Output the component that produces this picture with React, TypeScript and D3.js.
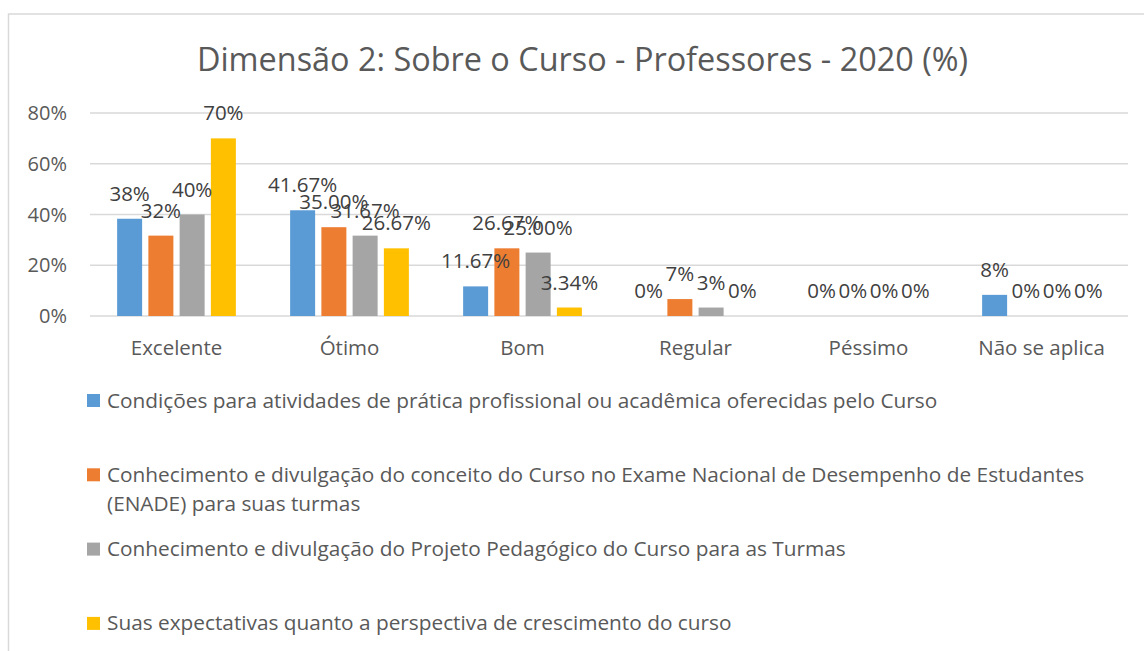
import React from "react";
import * as d3 from "d3";

const categories = ["Excelente", "Ótimo", "Bom", "Regular", "Péssimo", "Não se aplica"];
const seriesNames = [
  ["Condições para atividades de prática profissional ou acadêmica oferecidas pelo Curso"],
  ["Conhecimento e divulgação do conceito do Curso no Exame Nacional de Desempenho de Estudantes", "(ENADE) para suas turmas"],
  ["Conhecimento e divulgação do Projeto Pedagógico do Curso para as Turmas"],
  ["Suas expectativas quanto a perspectiva de crescimento do curso"],
];
const seriesColors = ["#5B9BD5", "#ED7D31", "#A5A5A5", "#FFC000"];
// values per series, in category order
const seriesValues = [
  [38.33, 41.67, 11.67, 0, 0, 8.33],
  [31.67, 35.0, 26.67, 6.67, 0, 0],
  [40, 31.67, 25.0, 3.33, 0, 0],
  [70, 26.67, 3.34, 0, 0, 0],
];
const seriesLabels = [
  ["38%", "41.67%", "11.67%", "0%", "0%", "8%"],
  ["32%", "35.00%", "26.67%", "7%", "0%", "0%"],
  ["40%", "31.67%", "25.00%", "3%", "0%", "0%"],
  ["70%", "26.67%", "3.34%", "0%", "0%", "0%"],
];
const yTicks = [0, 20, 40, 60, 80];
const title = "Dimensão 2: Sobre o Curso - Professores - 2020 (%)";

const W = 1144;
const H = 651;
const FONT = "'Open Sans', sans-serif";
const TXT = "#595959";

export default function App() {
  const x0 = d3.scaleBand<string>().domain(categories).range([90, 1128]);
  const x1 = d3
    .scaleBand<number>()
    .domain(d3.range(seriesNames.length))
    .range([0, x0.bandwidth()])
    .paddingInner(0.2)
    .paddingOuter(0.868);
  const y = d3.scaleLinear().domain([0, 80]).range([316, 113]);

  const legendTop = 394;
  const legendStep = 74.3;

  return (
    <div style={{ position: "fixed", left: 0, top: 0 }}>
      <svg width={W} height={H} style={{ display: "block", background: "#fff" }}>
        <rect x={8.5} y={14} width={1200} height={700} fill="#fff" stroke="#d9d9d9" strokeWidth={1.5} />
        <text x={582.5} y={71} textAnchor="middle" fontFamily={FONT} fontSize={32.4} fill={TXT}>
          {title}
        </text>
        {yTicks.map((t) => (
          <g key={t}>
            <line x1={90} x2={1128} y1={y(t)} y2={y(t)} stroke="#d9d9d9" strokeWidth={1.5} />
            <text x={67} y={y(t) + 7} textAnchor="end" fontFamily={FONT} fontSize={20} fill={TXT}>
              {t}%
            </text>
          </g>
        ))}
        {categories.map((c, ci) => (
          <g key={c}>
            {seriesValues.map((vals, si) => {
              const bx = (x0(c) as number) + (x1(si) as number);
              return (
                <rect
                  key={si}
                  x={bx}
                  y={y(vals[ci])}
                  width={x1.bandwidth()}
                  height={y(0) - y(vals[ci])}
                  fill={seriesColors[si]}
                />
              );
            })}
            <text
              x={(x0(c) as number) + x0.bandwidth() / 2}
              y={355}
              textAnchor="middle"
              fontFamily={FONT}
              fontSize={20.5}
              fill={TXT}
            >
              {c}
            </text>
          </g>
        ))}
        {categories.map((c, ci) =>
          seriesValues.map((vals, si) => {
            const cx = (x0(c) as number) + (x1(si) as number) + x1.bandwidth() / 2;
            return (
              <text
                key={c + si}
                x={cx}
                y={y(vals[ci]) - 18}
                textAnchor="middle"
                fontFamily={FONT}
                fontSize={20.5}
                fill="#404040"
              >
                {seriesLabels[si][ci]}
              </text>
            );
          })
        )}
        {seriesNames.map((lines, si) => {
          const top = legendTop + si * legendStep;
          return (
            <g key={si}>
              <rect x={87} y={top} width={13} height={13} fill={seriesColors[si]} />
              {lines.map((ln, li) => (
                <text
                  key={li}
                  x={107}
                  y={top + 13.5 + li * 29}
                  fontFamily={FONT}
                  fontSize={20.8}
                  fill={TXT}
                >
                  {ln}
                </text>
              ))}
            </g>
          );
        })}
      </svg>
    </div>
  );
}
